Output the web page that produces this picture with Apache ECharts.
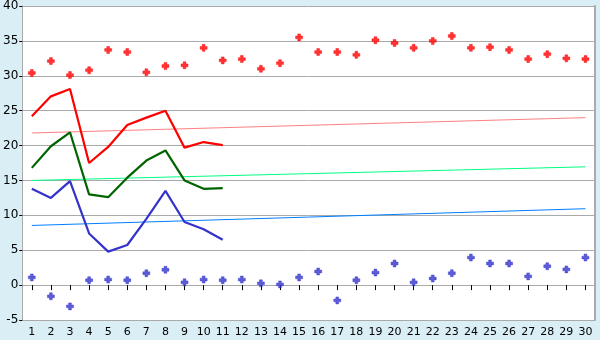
<!DOCTYPE html>
<html>
<head>
<meta charset="UTF-8">
<title>chart</title>
<script src="https://cdn.jsdelivr.net/npm/echarts@6/dist/echarts.min.js"></script>
<style>
  html, body { margin: 0; padding: 0; background: #daeef5; }
  #main { width: 600px; height: 340px; }
</style>
</head>
<body>
<div id="main"></div>
<script type="text/javascript">
// categories 1..30
var days = ['1','2','3','4','5','6','7','8','9','10','11','12','13','14','15',
            '16','17','18','19','20','21','22','23','24','25','26','27','28','29','30'];

// upper / lower points
var highPts = [30.4, 32.1, 30.1, 30.8, 33.7, 33.4, 30.5, 31.4, 31.5, 34.0,
               32.2, 32.4, 31.0, 31.8, 35.5, 33.4, 33.4, 33.0, 35.1, 34.7,
               34.0, 35.0, 35.7, 34.0, 34.1, 33.7, 32.4, 33.1, 32.5, 32.4];
var lowPts  = [1.1, -1.6, -3.05, 0.7, 0.8, 0.7, 1.7, 2.2, 0.4, 0.8,
               0.7, 0.8, 0.25, 0.1, 1.1, 1.95, -2.2, 0.7, 1.8, 3.1,
               0.4, 0.95, 1.7, 3.95, 3.1, 3.1, 1.25, 2.7, 2.25, 3.95];

// lines for the first 11 days
var redLine   = [24.2, 27.05, 28.1, 17.5, 19.8, 22.95, 24.0, 25.0, 19.7, 20.5, 20.05];
var greenLine = [16.8, 19.9, 21.9, 13.0, 12.6, 15.4, 17.85, 19.3, 15.0, 13.8, 13.9];
var blueLine  = [13.8, 12.5, 14.9, 7.4, 4.8, 5.75, 9.5, 13.5, 9.05, 8.0, 6.5];

// trend lines: value at day 1 and at day 30
var redTrend   = [21.8, 24.0];
var greenTrend = [15.0, 16.95];
var blueTrend  = [8.55, 10.95];

var yTicks = [-5, 40, 5];  // min, max, step

// chunky plus marker
var cross = 'path://M1.5,0H3.5V1.5H5V3.5H3.5V5H1.5V3.5H0V1.5H1.5Z';

function trend(vals, color) {
  return {
    type: 'line',
    data: [[days[0], vals[0]], [days[days.length - 1], vals[1]]],
    symbol: 'none',
    lineStyle: { color: color, width: 1 },
    silent: true,
    z: 2
  };
}
function mainLine(vals, color) {
  return {
    type: 'line',
    data: vals,
    symbol: 'none',
    lineStyle: { color: color, width: 2.2 },
    z: 3
  };
}
function dots(vals, color) {
  return {
    type: 'scatter',
    data: vals,
    symbol: cross,
    symbolSize: 7,
    itemStyle: { color: color, borderColor: color, borderWidth: 0.5 },
    z: 4
  };
}

var myChart = echarts.init(document.getElementById('main'));
var option = {
  animation: false,
  backgroundColor: '#daeef5',
  textStyle: { fontFamily: 'DejaVu Sans' },
  grid: {
    left: 20, right: 5, top: 5, bottom: 20,
    show: true,
    backgroundColor: '#ffffff',
    borderWidth: 0
  },
  xAxis: {
    type: 'category',
    data: days,
    boundaryGap: true,
    axisLine: { show: false },
    axisTick: { show: true, alignWithLabel: true, length: 5, lineStyle: { color: '#000' } },
    axisLabel: { color: '#000', fontSize: 11, margin: 7, interval: 0, fontFamily: 'DejaVu Sans' },
    splitLine: { show: false }
  },
  yAxis: [{
    type: 'value',
    min: yTicks[0], max: yTicks[1], interval: yTicks[2],
    axisLine: { show: true, lineStyle: { color: '#aaaaaa', width: 1 } },
    axisTick: { show: true, length: 3, lineStyle: { color: '#000' } },
    axisLabel: { color: '#000', fontSize: 12, margin: 4, fontFamily: 'DejaVu Sans' },
    splitLine: { show: true, lineStyle: { color: '#aaaaaa', width: 1 } }
  }, {
    type: 'value',
    position: 'right',
    min: yTicks[0], max: yTicks[1], interval: yTicks[2],
    axisLine: { show: true, lineStyle: { color: '#aaaaaa', width: 2 } },
    axisTick: { show: false },
    axisLabel: { show: false },
    splitLine: { show: false }
  }],
  series: [
    trend(redTrend, '#ff8080'),
    trend(greenTrend, '#00ff80'),
    trend(blueTrend, '#0080ff'),
    mainLine(redLine, '#ff0000'),
    mainLine(greenLine, '#006400'),
    mainLine(blueLine, '#3333cc'),
    dots(highPts, '#ff0000'),
    dots(lowPts, '#3333cc')
  ]
};
myChart.setOption(option);
</script>
</body>
</html>
